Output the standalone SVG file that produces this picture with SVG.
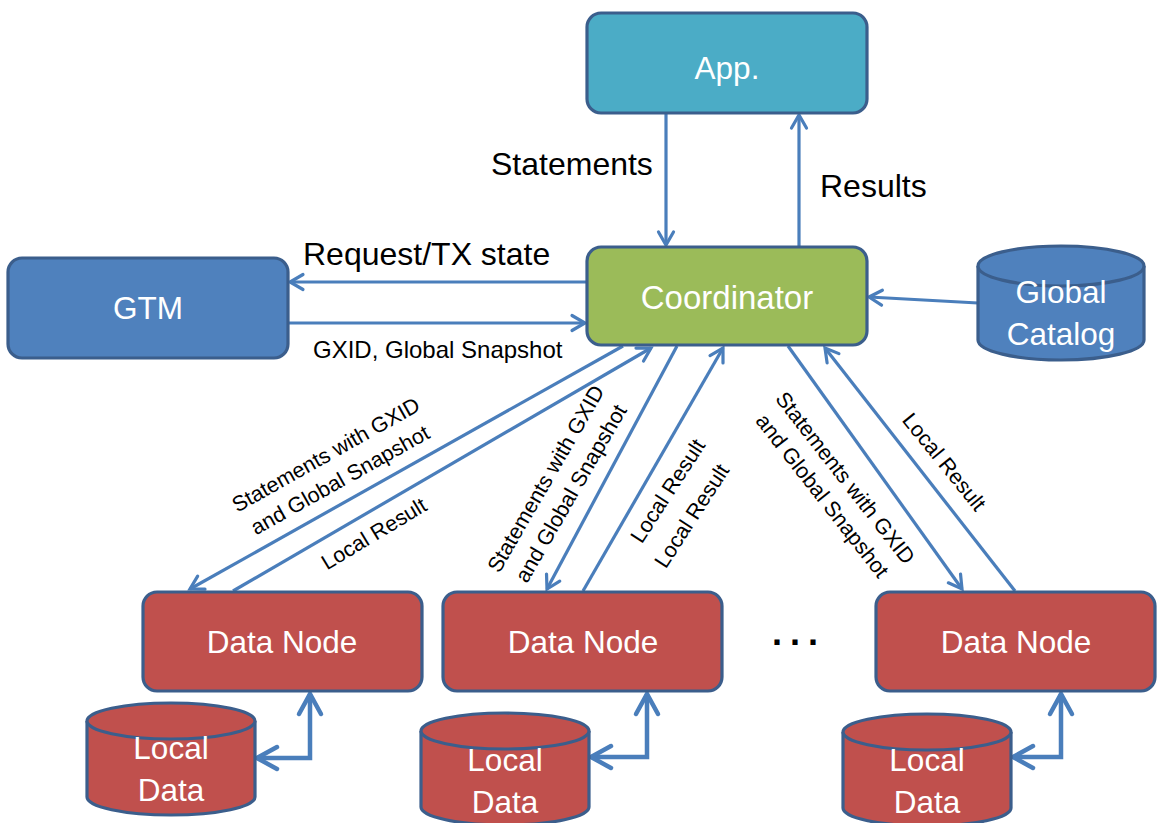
<svg xmlns="http://www.w3.org/2000/svg" width="1158" height="823" viewBox="0 0 1158 823">
<style>
.box{stroke:#3B5E8C;stroke-width:3.2}
.lbl{font-family:"Liberation Sans",Arial,sans-serif;fill:#fff;font-size:31.5px;text-anchor:middle}
.txt{font-family:"Liberation Sans",Arial,sans-serif;fill:#000;font-size:32px}
.sm{font-family:"Liberation Sans",Arial,sans-serif;fill:#000;font-size:21.5px;text-anchor:middle}
.ln{stroke:#4A7EBB;stroke-width:3.2;fill:none}
.lnb{stroke:#4A7EBB;stroke-width:4.5;fill:none;stroke-linejoin:miter}
</style>
<defs>
<marker id="ah" markerUnits="userSpaceOnUse" markerWidth="22" markerHeight="22" viewBox="0 0 22 22" refX="18" refY="11" orient="auto">
<path d="M5,3.5 L18,11 L5,18.5" fill="none" stroke="#4A7EBB" stroke-width="3.2" stroke-linecap="round"/>
</marker>
<marker id="ahb" markerUnits="userSpaceOnUse" markerWidth="32" markerHeight="32" viewBox="0 0 32 32" refX="26" refY="16" orient="auto-start-reverse">
<path d="M6,5 L26,16 L6,27" fill="none" stroke="#4A7EBB" stroke-width="4.5" stroke-linecap="round"/>
</marker>
</defs>

<g id="connectors">
<line class="ln" x1="666" y1="113" x2="666" y2="245" marker-end="url(#ah)"/>
<line class="ln" x1="799" y1="246" x2="799" y2="115" marker-end="url(#ah)"/>
<line class="ln" x1="587" y1="282" x2="290" y2="282" marker-end="url(#ah)"/>
<line class="ln" x1="288" y1="323" x2="585" y2="323" marker-end="url(#ah)"/>
<line class="ln" x1="978" y1="303" x2="869" y2="297" marker-end="url(#ah)"/>
<line class="ln" x1="623" y1="346" x2="190" y2="589" marker-end="url(#ah)"/>
<line class="ln" x1="233" y1="591" x2="651" y2="348" marker-end="url(#ah)"/>
<line class="ln" x1="677" y1="346" x2="547" y2="589" marker-end="url(#ah)"/>
<line class="ln" x1="583" y1="591" x2="723" y2="348" marker-end="url(#ah)"/>
<line class="ln" x1="788" y1="346" x2="962" y2="589" marker-end="url(#ah)"/>
<line class="ln" x1="1015" y1="591" x2="825" y2="348" marker-end="url(#ah)"/>
<polyline class="lnb" points="257,758 310,758 310,694" marker-start="url(#ahb)" marker-end="url(#ahb)"/>
<polyline class="lnb" points="591,757 647,757 647,694" marker-start="url(#ahb)" marker-end="url(#ahb)"/>
<polyline class="lnb" points="1013,757 1061,757 1061,694" marker-start="url(#ahb)" marker-end="url(#ahb)"/>
</g>

<g id="labels">
<text class="txt" x="491" y="175">Statements</text>
<text class="txt" x="820" y="197">Results</text>
<text class="txt" x="303" y="265">Request/TX state</text>
<text class="txt" x="313" y="358" style="font-size:24px">GXID, Global Snapshot</text>
<text class="sm" transform="translate(326,455) rotate(-29.3)"><tspan x="0" y="7">Statements with GXID</tspan><tspan x="0" y="36">and Global Snapshot</tspan></text>
<text class="sm" transform="translate(374,534) rotate(-31)"><tspan x="0" y="7">Local Result</tspan></text>
<text class="sm" transform="translate(546,479) rotate(-60)"><tspan x="0" y="7">Statements with GXID</tspan><tspan x="0" y="36">and Global Snapshot</tspan></text>
<text class="sm" transform="translate(668,491) rotate(-57)"><tspan x="0" y="7">Local Result</tspan></text>
<text class="sm" transform="translate(692,516) rotate(-57)"><tspan x="0" y="7">Local Result</tspan></text>
<text class="sm" transform="translate(845,478) rotate(52)"><tspan x="0" y="7">Statements with GXID</tspan><tspan x="0" y="36">and Global Snapshot</tspan></text>
<text class="sm" transform="translate(944,462) rotate(51)"><tspan x="0" y="7">Local Result</tspan></text>
<text x="772" y="644.5" style="font-family:'Liberation Sans',Arial,sans-serif;font-weight:bold;font-size:36px;letter-spacing:8px" fill="#000">...</text>
</g>

<g id="app">
<rect class="box" x="587" y="13" width="280" height="100" rx="14" fill="#4BACC6"/>
<text class="lbl" x="727" y="79">App.</text>
</g>
<g id="coordinator">
<rect class="box" x="587" y="247" width="280" height="98" rx="14" fill="#9BBB59"/>
<text class="lbl" x="727" y="309" style="font-size:33px">Coordinator</text>
</g>
<g id="gtm">
<rect class="box" x="8" y="258" width="280" height="100" rx="14" fill="#4F81BD"/>
<text class="lbl" x="148" y="319">GTM</text>
</g>
<g id="global-catalog">
<path class="box" fill="#4F81BD" d="M978,266 V340 A83,20 0 0 0 1144,340 V266"/>
<ellipse class="box" cx="1061" cy="266" rx="83" ry="20" fill="#4F81BD"/>
<text class="lbl" x="1061" y="303">Global</text>
<text class="lbl" x="1061" y="345">Catalog</text>
</g>
<g id="datanode1">
<rect class="box" x="143" y="592" width="279" height="99" rx="14" fill="#C0504D"/>
<text class="lbl" x="282" y="653">Data Node</text>
</g>
<g id="datanode2">
<rect class="box" x="443" y="592" width="279" height="99" rx="14" fill="#C0504D"/>
<text class="lbl" x="583" y="653">Data Node</text>
</g>
<g id="datanode3">
<rect class="box" x="876" y="592" width="279" height="99" rx="14" fill="#C0504D"/>
<text class="lbl" x="1016" y="653">Data Node</text>
</g>
<g id="localdata1">
<path class="box" fill="#C0504D" d="M87,721 V797 A84,18 0 0 0 255,797 V721"/>
<ellipse class="box" cx="171" cy="721" rx="84" ry="18" fill="#C0504D"/>
<text class="lbl" x="171" y="759">Local</text>
<text class="lbl" x="171" y="801">Data</text>
</g>
<g id="localdata2">
<path class="box" fill="#C0504D" d="M421,731 V807 A84,18 0 0 0 589,807 V731"/>
<ellipse class="box" cx="505" cy="731" rx="84" ry="18" fill="#C0504D"/>
<text class="lbl" x="505" y="771">Local</text>
<text class="lbl" x="505" y="813">Data</text>
</g>
<g id="localdata3">
<path class="box" fill="#C0504D" d="M843,732 V808 A84,18 0 0 0 1011,808 V732"/>
<ellipse class="box" cx="927" cy="732" rx="84" ry="18" fill="#C0504D"/>
<text class="lbl" x="927" y="771">Local</text>
<text class="lbl" x="927" y="813">Data</text>
</g>
</svg>
